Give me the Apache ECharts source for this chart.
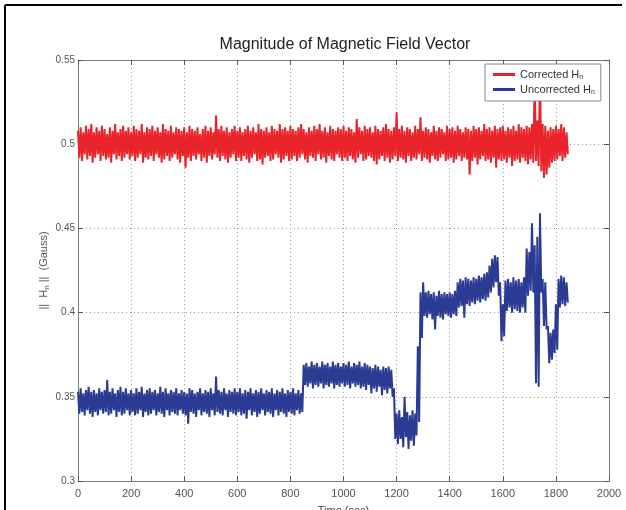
<!DOCTYPE html>
<html>
<head>
<meta charset="utf-8">
<script src="https://cdn.jsdelivr.net/npm/echarts@6/dist/echarts.min.js"></script>
<style>
  html, body { margin: 0; padding: 0; background: #fff; }
  #chart { width: 626px; height: 510px; }
</style>
</head>
<body>
<div id="chart"></div>
<script>
// one bin every 10 s from t = 0; each bin holds the highest and lowest sample
const binStep = 10

const correctedHigh = [
  0.508,0.510,0.507,0.511,0.509,0.512,0.507,0.510,0.508,0.511,0.509,0.506,0.510,0.508,0.512,0.507,0.509,0.511,0.508,0.510,
  0.507,0.511,0.509,0.508,0.512,0.507,0.510,0.509,0.511,0.508,0.510,0.507,0.512,0.509,0.508,0.511,0.507,0.510,0.509,0.508,
  0.510,0.507,0.511,0.509,0.508,0.510,0.506,0.509,0.511,0.508,0.510,0.507,0.517,0.509,0.511,0.508,0.510,0.507,0.509,0.511,
  0.508,0.510,0.507,0.509,0.511,0.508,0.510,0.507,0.512,0.509,0.508,0.510,0.507,0.511,0.509,0.508,0.512,0.509,0.510,0.508,
  0.511,0.509,0.508,0.510,0.512,0.509,0.507,0.510,0.508,0.511,0.509,0.512,0.508,0.510,0.507,0.511,0.509,0.508,0.510,0.509,
  0.511,0.508,0.510,0.509,0.507,0.515,0.510,0.508,0.511,0.509,0.510,0.507,0.511,0.509,0.508,0.510,0.512,0.509,0.508,0.510,
  0.519,0.509,0.511,0.508,0.510,0.509,0.507,0.511,0.509,0.516,0.508,0.510,0.509,0.507,0.511,0.508,0.510,0.509,0.507,0.511,
  0.509,0.510,0.508,0.511,0.509,0.507,0.510,0.509,0.508,0.511,0.509,0.510,0.508,0.512,0.509,0.510,0.508,0.511,0.509,0.510,
  0.511,0.508,0.510,0.509,0.511,0.508,0.512,0.510,0.509,0.511,0.510,0.512,0.540,0.514,0.545,0.512,0.511,0.508,0.510,0.509,
  0.511,0.509,0.512,0.510,0.507
]
const correctedLow = [
  0.492,0.490,0.494,0.491,0.493,0.489,0.492,0.494,0.490,0.493,0.491,0.492,0.489,0.494,0.491,0.493,0.490,0.492,0.494,0.491,
  0.493,0.490,0.492,0.494,0.489,0.492,0.491,0.493,0.490,0.494,0.492,0.489,0.491,0.493,0.490,0.492,0.494,0.491,0.489,0.493,
  0.486,0.492,0.490,0.493,0.491,0.494,0.490,0.492,0.489,0.493,0.491,0.494,0.492,0.490,0.493,0.491,0.489,0.492,0.494,0.490,
  0.492,0.490,0.493,0.491,0.489,0.492,0.494,0.490,0.491,0.488,0.492,0.493,0.490,0.491,0.494,0.492,0.489,0.491,0.493,0.490,
  0.491,0.493,0.490,0.492,0.494,0.491,0.489,0.493,0.492,0.490,0.494,0.491,0.492,0.489,0.493,0.491,0.490,0.494,0.492,0.490,
  0.492,0.490,0.493,0.491,0.489,0.492,0.494,0.490,0.491,0.493,0.492,0.490,0.488,0.491,0.493,0.490,0.492,0.489,0.491,0.493,
  0.490,0.492,0.491,0.489,0.493,0.490,0.492,0.491,0.494,0.490,0.492,0.491,0.489,0.493,0.491,0.490,0.492,0.494,0.490,0.491,
  0.492,0.489,0.491,0.493,0.490,0.492,0.491,0.482,0.490,0.492,0.488,0.491,0.493,0.490,0.491,0.489,0.492,0.486,0.491,0.490,
  0.491,0.489,0.492,0.487,0.490,0.491,0.489,0.492,0.490,0.488,0.491,0.489,0.490,0.487,0.484,0.480,0.482,0.486,0.489,0.490,
  0.491,0.493,0.490,0.492,0.494
]

const uncorrectedHigh = [
  0.353,0.355,0.352,0.354,0.356,0.353,0.354,0.352,0.355,0.353,0.354,0.360,0.353,0.355,0.352,0.354,0.356,0.353,0.355,0.352,
  0.354,0.352,0.355,0.353,0.356,0.352,0.354,0.355,0.353,0.354,0.352,0.356,0.353,0.355,0.352,0.354,0.353,0.355,0.352,0.354,
  0.353,0.352,0.355,0.354,0.352,0.353,0.355,0.352,0.354,0.353,0.355,0.352,0.362,0.354,0.353,0.355,0.352,0.354,0.353,0.355,
  0.353,0.355,0.352,0.354,0.353,0.355,0.352,0.354,0.353,0.355,0.352,0.354,0.353,0.355,0.352,0.354,0.353,0.355,0.352,0.354,
  0.353,0.355,0.352,0.354,0.352,0.369,0.370,0.368,0.371,0.369,0.370,0.368,0.371,0.369,0.370,0.368,0.371,0.369,0.370,0.368,
  0.370,0.369,0.371,0.368,0.370,0.369,0.371,0.368,0.370,0.369,0.368,0.367,0.369,0.368,0.366,0.368,0.367,0.368,0.366,0.355,
  0.340,0.342,0.338,0.350,0.341,0.339,0.342,0.340,0.380,0.412,0.418,0.412,0.413,0.411,0.412,0.410,0.413,0.411,0.412,0.411,
  0.412,0.411,0.413,0.418,0.420,0.419,0.421,0.420,0.419,0.421,0.420,0.422,0.421,0.423,0.424,0.428,0.432,0.434,0.433,0.418,
  0.405,0.419,0.420,0.418,0.421,0.419,0.420,0.418,0.421,0.438,0.436,0.453,0.440,0.445,0.459,0.420,0.418,0.392,0.388,0.390,
  0.405,0.420,0.422,0.421,0.418
]
const uncorrectedLow = [
  0.340,0.341,0.339,0.342,0.340,0.338,0.341,0.339,0.342,0.340,0.341,0.339,0.340,0.342,0.338,0.341,0.339,0.340,0.342,0.339,
  0.341,0.339,0.340,0.342,0.338,0.341,0.339,0.340,0.342,0.339,0.341,0.340,0.338,0.342,0.339,0.341,0.340,0.339,0.342,0.340,
  0.339,0.334,0.341,0.340,0.338,0.342,0.339,0.341,0.340,0.338,0.342,0.339,0.341,0.340,0.339,0.342,0.338,0.341,0.340,0.339,
  0.341,0.339,0.340,0.337,0.342,0.339,0.341,0.338,0.340,0.342,0.339,0.341,0.340,0.338,0.342,0.339,0.341,0.340,0.338,0.341,
  0.340,0.339,0.342,0.340,0.341,0.357,0.356,0.358,0.355,0.357,0.356,0.358,0.355,0.357,0.356,0.358,0.355,0.357,0.356,0.358,
  0.356,0.357,0.355,0.358,0.356,0.357,0.355,0.356,0.354,0.357,0.352,0.355,0.353,0.356,0.351,0.354,0.352,0.355,0.350,0.325,
  0.322,0.325,0.320,0.326,0.319,0.324,0.321,0.327,0.335,0.385,0.398,0.397,0.399,0.396,0.390,0.398,0.397,0.396,0.399,0.398,
  0.397,0.399,0.398,0.403,0.404,0.397,0.405,0.404,0.406,0.405,0.407,0.406,0.408,0.407,0.409,0.412,0.415,0.418,0.410,0.383,
  0.386,0.401,0.403,0.400,0.402,0.401,0.400,0.403,0.400,0.410,0.413,0.412,0.358,0.356,0.412,0.392,0.390,0.370,0.372,0.376,
  0.378,0.403,0.405,0.404,0.406
]

const xTicks = { min: 0, max: 2000, interval: 200 }
const yTicks = { min: 0.3, max: 0.55, interval: 0.05 }

const seriesNames = ['Corrected H_n', 'Uncorrected H_n']

let chart = echarts.init(document.getElementById('chart'))

// trace each bin high then low, like the dense raw signal
function traceBins(high, low) {
  let pts = []
  high.forEach((h, i) => {
    pts.push([i * binStep, h])
    pts.push([i * binStep + binStep / 2, low[i]])
  })
  return pts
}

const font = 'Liberation Sans'
const gridLine = { show: true, lineStyle: { color: '#9a9a9a', type: [1, 3], width: 1 } }
const boxLine = { show: true, onZero: false, lineStyle: { color: '#7a7a7a', width: 1 } }
const inTick = { show: true, inside: true, length: 5, lineStyle: { color: '#555' } }

let option = {
  animation: false,
  backgroundColor: '#fff',
  title: {
    text: 'Magnitude of Magnetic Field Vector',
    left: 340,
    textAlign: 'center',
    top: 32,
    textStyle: { fontFamily: font, fontSize: 16, fontWeight: 'normal', color: '#222' },
  },
  grid: { left: 78, top: 60, width: 531, height: 421, containLabel: false, outerBoundsMode: 'none' },
  legend: {
    orient: 'vertical',
    left: 485,
    top: 64,
    width: 108,
    padding: [5, 6, 5, 8],
    itemGap: 3,
    itemWidth: 22,
    itemHeight: 3,
    icon: 'rect',
    backgroundColor: '#fff',
    borderColor: '#888',
    borderWidth: 1,
    borderRadius: 0,
    data: seriesNames,
    formatter: (name) => '{a|' + name.replace('_n', '') + '}{s|n}',
    textStyle: {
      fontFamily: font,
      fontSize: 11,
      color: '#333',
      rich: {
        a: { fontSize: 11, color: '#333', fontFamily: font },
        s: { fontSize: 7, color: '#333', fontFamily: font, padding: [6, 0, 0, 0] },
      },
    },
  },
  xAxis: [
    {
      type: 'value',
      ...xTicks,
      name: 'Time (sec)',
      nameLocation: 'middle',
      nameGap: 24,
      nameTextStyle: { fontFamily: font, fontSize: 11, color: '#444' },
      axisLine: boxLine,
      axisTick: inTick,
      splitLine: gridLine,
      axisLabel: { fontFamily: font, fontSize: 11, color: '#555', margin: 7, formatter: (v) => String(v) },
    },
    {
      type: 'value',
      position: 'top',
      ...xTicks,
      axisLine: boxLine,
      axisTick: inTick,
      splitLine: { show: false },
      axisLabel: { show: false },
    },
  ],
  yAxis: [
    {
      type: 'value',
      ...yTicks,
      name: '{a|||  H}{s|n}{a| ||  (Gauss)}',
      nameLocation: 'middle',
      nameGap: 27,
      nameMoveOverlap: false,
      nameTextStyle: {
        fontFamily: font,
        fontSize: 11,
        color: '#555',
        rich: {
          a: { fontSize: 11, color: '#555', fontFamily: font },
          s: { fontSize: 8, color: '#555', fontFamily: font, padding: [6, 0, 0, 0] },
        },
      },
      axisLine: boxLine,
      axisTick: inTick,
      splitLine: gridLine,
      axisLabel: { fontFamily: font, fontSize: 10, color: '#555', margin: 3 },
    },
    {
      type: 'value',
      position: 'right',
      ...yTicks,
      axisLine: boxLine,
      axisTick: inTick,
      splitLine: { show: false },
      axisLabel: { show: false },
    },
  ],
  graphic: [
    { type: 'line', shape: { x1: 5, y1: 5, x2: 622, y2: 5 }, style: { stroke: '#000', lineWidth: 2 } },
    { type: 'line', shape: { x1: 5, y1: 5, x2: 5, y2: 510 }, style: { stroke: '#000', lineWidth: 2 } },
  ],
  series: [
    {
      name: seriesNames[0],
      type: 'line',
      showSymbol: false,
      data: traceBins(correctedHigh, correctedLow),
      color: '#e8232a',
      lineStyle: { width: 2, color: '#e8232a' },
      z: 3,
    },
    {
      name: seriesNames[1],
      type: 'line',
      showSymbol: false,
      data: traceBins(uncorrectedHigh, uncorrectedLow),
      color: '#2b3a92',
      lineStyle: { width: 2, color: '#2b3a92' },
      z: 3,
    },
  ],
}

chart.setOption(option)
</script>
</body>
</html>
